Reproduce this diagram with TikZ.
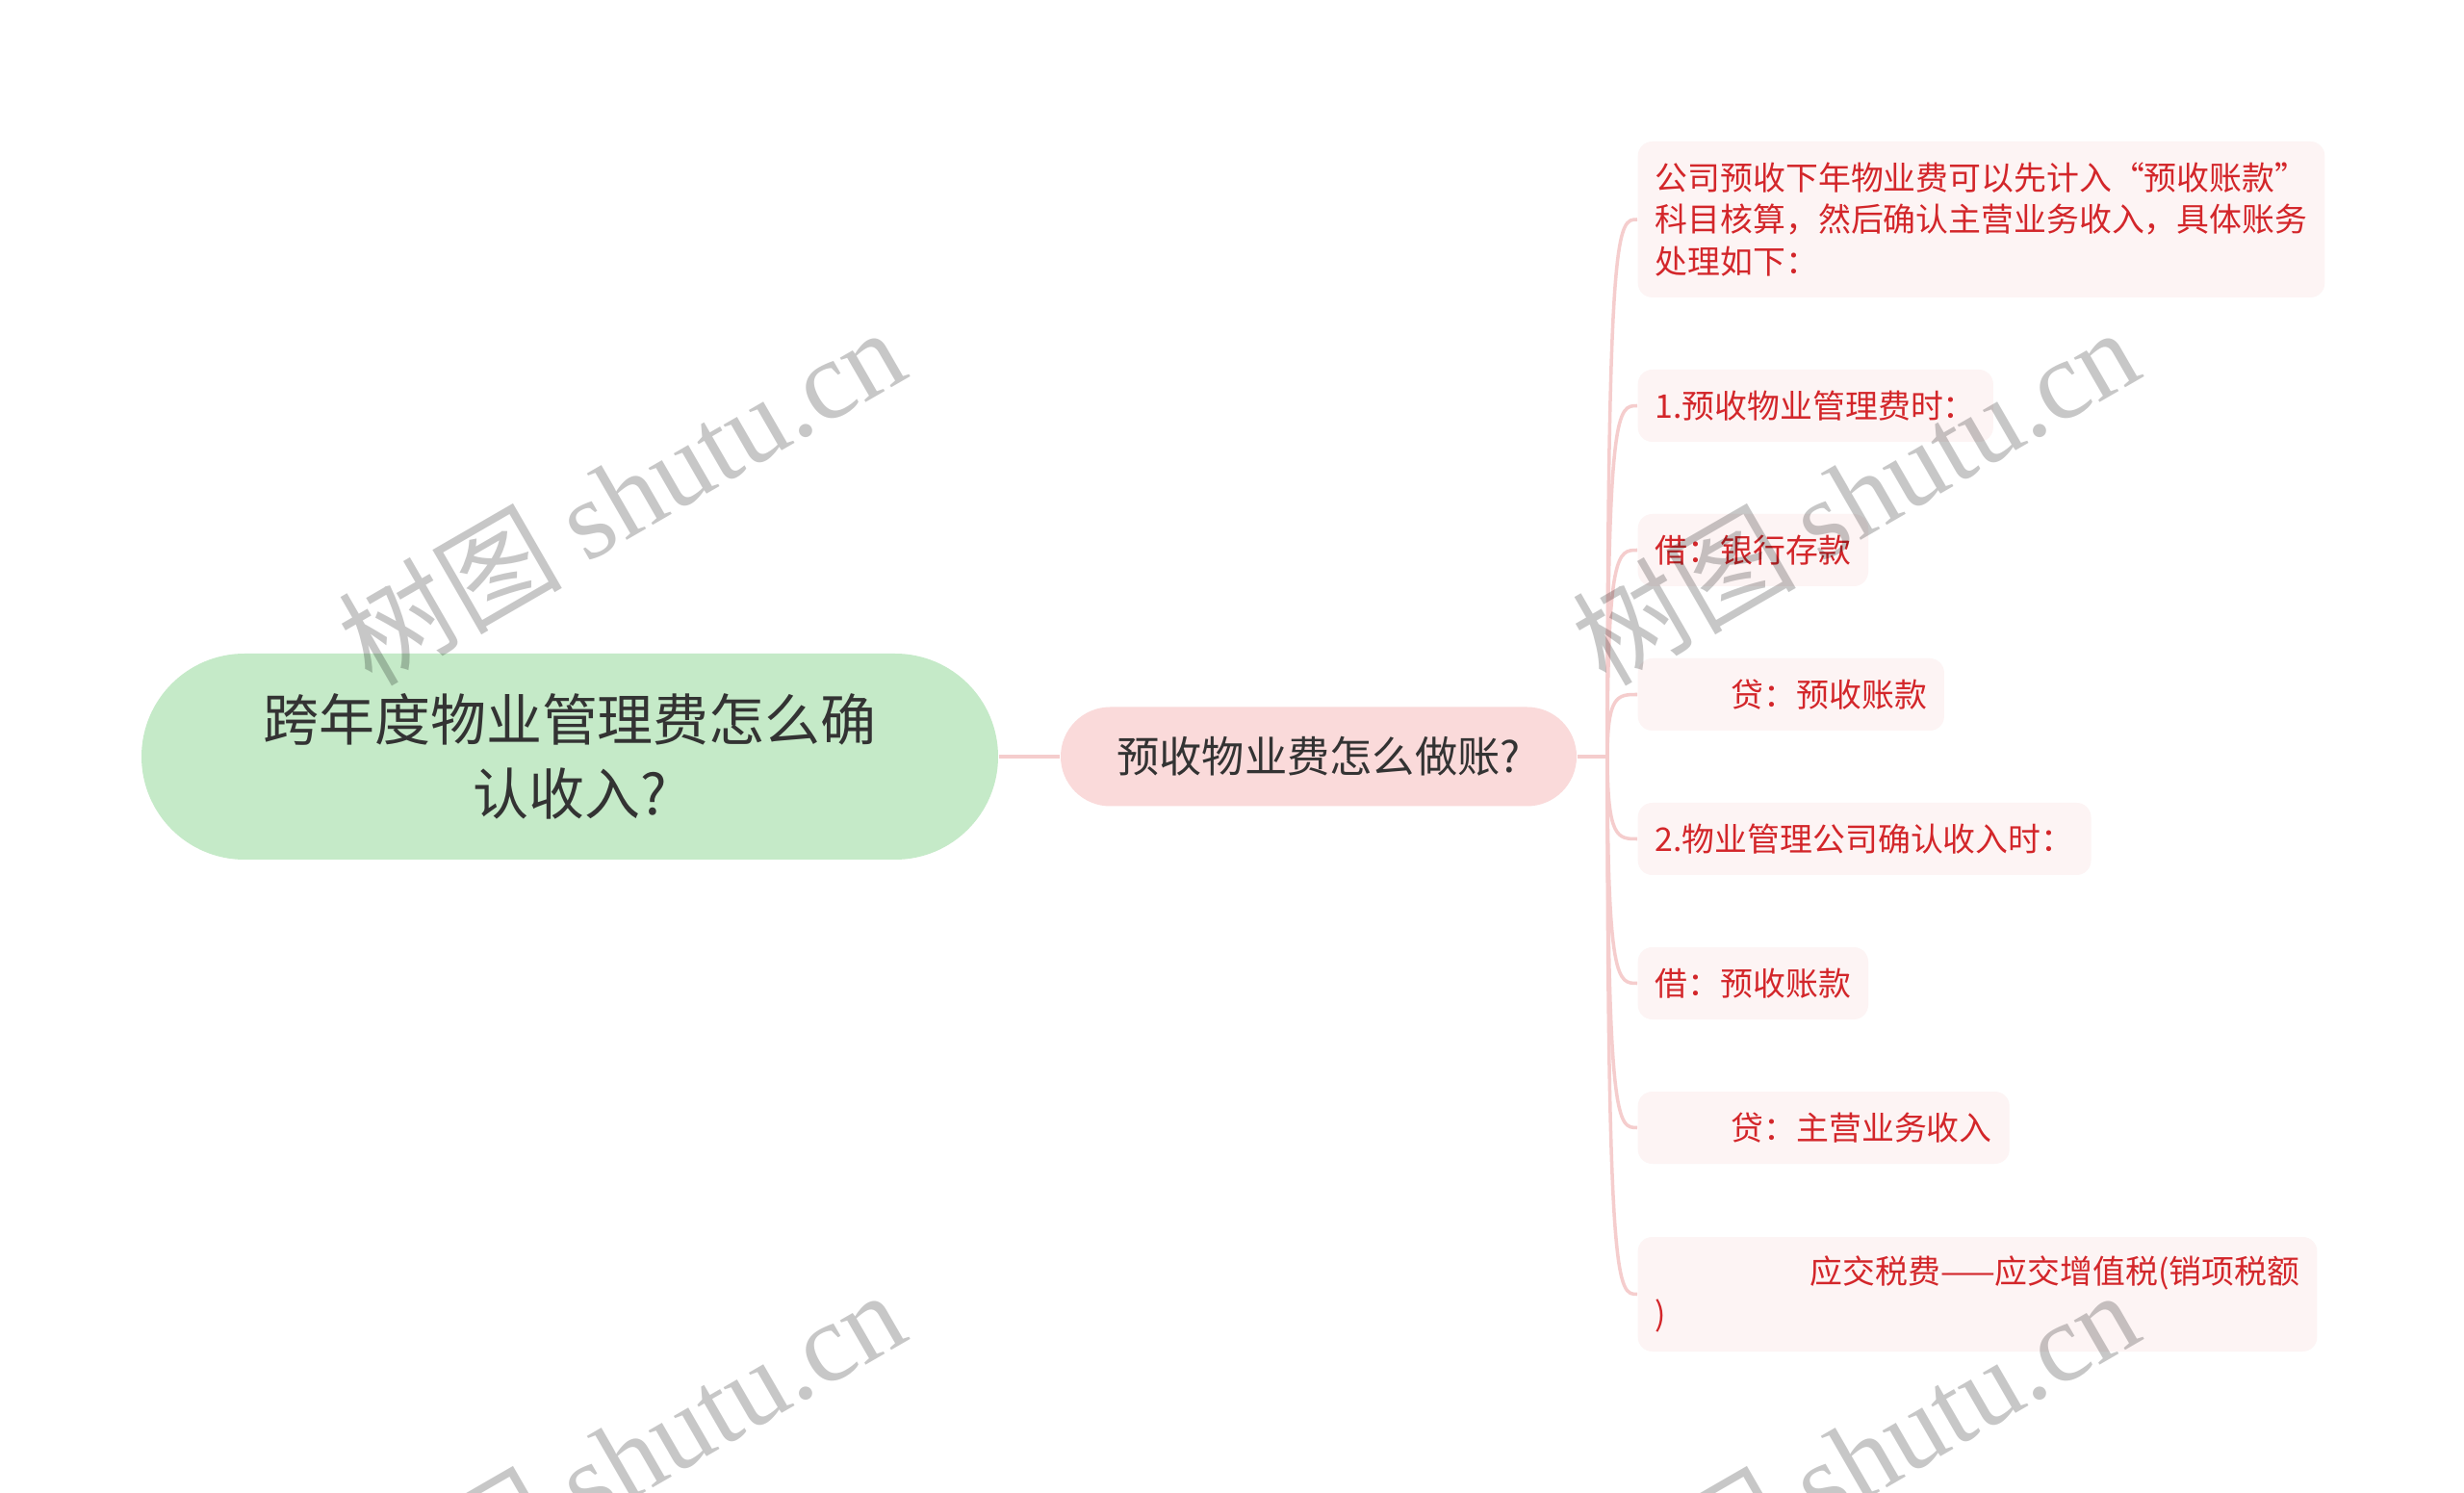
\documentclass[tikz,border=0pt]{standalone}
\usepackage{fontspec}
\setmainfont{Noto Sans CJK SC}
\newfontfamily\wmserif{Liberation Serif}
\newfontfamily\wmcjk{Noto Sans CJK SC}
\definecolor{rootfill}{HTML}{C5EAC8}
\definecolor{midfill}{HTML}{FADADA}
\definecolor{leaffill}{HTML}{FDF4F4}
\definecolor{leaftext}{HTML}{D3262A}
\definecolor{linecol}{HTML}{F5CDCD}
\definecolor{darktext}{HTML}{333333}
\tikzset{
  rootbox/.style={rectangle, rounded corners=1.07cm, minimum width=8.9cm, minimum height=2.14cm,
    fill=rootfill, text=darktext, font=\fontsize{16.5}{21.8}\selectfont, align=center, inner sep=0pt},
  midbox/.style={rectangle, rounded corners=0.515cm, minimum width=5.36cm, minimum height=1.03cm,
    fill=midfill, text=darktext, font=\fontsize{12.6}{16}\selectfont, inner sep=0pt},
  leafbox/.style={rectangle, rounded corners=0.15cm, fill=leaffill, text=leaftext,
    font=\fontsize{9.64}{12.3}\selectfont, align=left, inner xsep=0.18cm, inner ysep=0pt,
    minimum height=0.75cm, anchor=west},
  conn/.style={draw=linecol, line width=1pt},
  wmark/.style={rotate=30, text=black, opacity=0.22, font=\fontsize{33}{33}\selectfont}
}
\begin{document}
\begin{tikzpicture}
\useasboundingbox (0,0) rectangle (25.6,-15.51);
\clip (0,0) rectangle (25.6,-15.51);
\fill[white] (0,0) rectangle (25.6,-15.51);

\node[rootbox] (root) at (5.92,-7.86) {跨年度物业管理费怎么确\\认收入?};
\node[midbox] (mid) at (13.70,-7.86) {预收物业费怎么做账?};
\coordinate (hub) at (16.70,-7.86);

\node[leafbox, minimum height=1.62cm] (l1) at (17.01,-2.28) {公司预收下年物业费可以先计入“预收账款”\\科目核算，然后确认主营业务收入，具体账务\\处理如下：};
\node[leafbox] (l2) at (17.01,-4.215) {1.预收物业管理费时：};
\node[leafbox] (l3) at (17.01,-5.715) {借：银行存款};
\node[leafbox] (l4) at (17.01,-7.215) {\hspace*{2.33em}贷：预收账款};
\node[leafbox] (l5) at (17.01,-8.715) {2.物业管理公司确认收入时：};
\node[leafbox] (l6) at (17.01,-10.215) {借：预收账款};
\node[leafbox] (l7) at (17.01,-11.715) {\hspace*{2.33em}贷：主营业务收入};
\node[leafbox, minimum height=1.19cm] (l8) at (17.01,-13.445) {\hspace*{4.75em}应交税费——应交增值税(销项税额\\)};

\draw[conn, line width=1.2pt] (root.east) -- (mid.west);
\draw[conn, line width=1.2pt] (mid.east) -- (hub);
\foreach \n in {l1,l2,l3,l4,l5,l6,l7,l8}{
  \draw[conn] (hub) .. controls (hub |- \n.west) and ([xshift=-0.2cm]\n.west) .. (\n.west);
}

\node[wmark] (w1) at (6.45,-5.14) {\wmcjk 树图\ \wmserif shutu.cn};
\node[wmark] (w2) at (19.27,-5.14) {\wmcjk 树图\ \wmserif shutu.cn};
\node[wmark] (w3) at (6.45,-15.14) {\wmcjk 树图\ \wmserif shutu.cn};
\node[wmark] (w4) at (19.27,-15.14) {\wmcjk 树图\ \wmserif shutu.cn};
\end{tikzpicture}
\end{document}
